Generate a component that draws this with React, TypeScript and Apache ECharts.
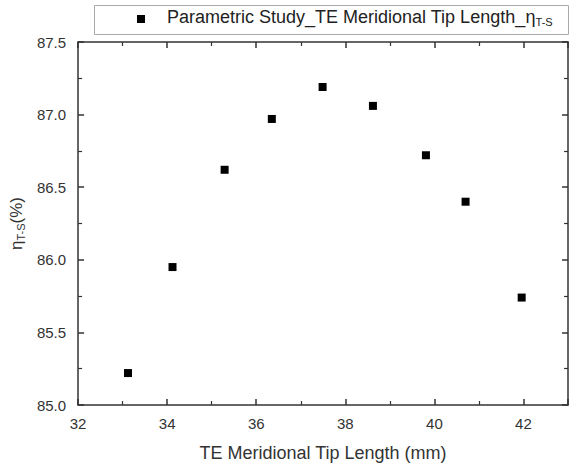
import React, { useEffect, useRef } from "react";
import * as echarts from "echarts";

const tipLength = [33.12, 34.12, 35.29, 36.35, 37.49, 38.62, 39.81, 40.7, 41.96];
const efficiency = [85.22, 85.95, 86.62, 86.97, 87.19, 87.06, 86.72, 86.4, 85.74];
const seriesName = "Parametric Study_TE Meridional Tip Length_ηT-S";
const xTitle = "TE Meridional Tip Length (mm)";

export default function App() {
  const ref = useRef<HTMLDivElement>(null);
  useEffect(() => {
    if (!ref.current) return;
    const chart = echarts.init(ref.current, undefined, { renderer: "svg" });
    const font = "Liberation Sans, Arial, sans-serif";
    const axisColor = "#333";
    const common = {
      axisLine: { show: true, lineStyle: { color: axisColor, width: 1.5 } },
      axisTick: { show: true, inside: true, length: 6, lineStyle: { color: axisColor, width: 1.5 } },
      minorTick: { show: true, splitNumber: 2, length: 4, lineStyle: { color: axisColor, width: 1.2 } },
      splitLine: { show: false },
    };
    const data = tipLength.map((x, i) => [x, efficiency[i]]);
    chart.setOption({
      animation: false,
      backgroundColor: "#fff",
      grid: { left: 77, right: 1, top: 42, bottom: 61, containLabel: false },
      xAxis: [
        {
          type: "value", min: 32, max: 43, interval: 2, position: "bottom",
          ...common,
          axisLabel: { color: "#333", fontSize: 15, fontFamily: font, margin: 11, showMaxLabel: false },
          name: xTitle, nameLocation: "middle", nameGap: 39,
          nameTextStyle: { color: "#333", fontSize: 18, fontFamily: font },
        },
        {
          type: "value", min: 32, max: 43, interval: 2, position: "top",
          ...common,
          axisLabel: { show: false },
        },
      ],
      yAxis: [
        {
          type: "value", min: 85, max: 87.5, interval: 0.5, position: "left",
          ...common,
          axisLabel: { color: "#333", fontSize: 15, fontFamily: font, margin: 12, formatter: (v: number) => v.toFixed(1) },
          name: "{a|η}{b|T-S}{a|(%)}", nameLocation: "middle", nameGap: 42, nameRotate: 90,
          nameTextStyle: {
            color: "#333", fontFamily: font,
            rich: {
              a: { fontSize: 17, fontFamily: font, color: "#333" },
              b: { fontSize: 11, fontFamily: font, color: "#333", padding: [8, 0, 0, 0] },
            },
          },
        },
        {
          type: "value", min: 85, max: 87.5, interval: 0.5, position: "right",
          ...common,
          axisLabel: { show: false },
        },
      ],
      series: [
        {
          name: seriesName,
          type: "scatter",
          data,
          symbol: "rect",
          symbolSize: 8,
          itemStyle: { color: "#000", opacity: 1 },
        },
      ],
      graphic: [
        {
          type: "rect", left: 94, top: 5,
          shape: { width: 474, height: 29 },
          style: { fill: "#fff", stroke: "#aaa", lineWidth: 1 },
        },
        {
          type: "rect", left: 137, top: 15,
          shape: { width: 8, height: 8 },
          style: { fill: "#000" },
        },
        {
          type: "text", left: 167, top: 8,
          style: {
            text: "{a|Parametric Study_TE Meridional Tip Length_}{a|η}{b|T-S}",
            rich: {
              a: { fontSize: 18, fontFamily: font, fill: "#222" },
              b: { fontSize: 11, fontFamily: font, fill: "#222", padding: [9, 0, 0, 0] },
            },
          },
        },
      ],
    });
    return () => chart.dispose();
  }, []);
  return <div ref={ref} style={{ width: 569, height: 467, position: "absolute", left: 0, top: 0 }} />;
}
